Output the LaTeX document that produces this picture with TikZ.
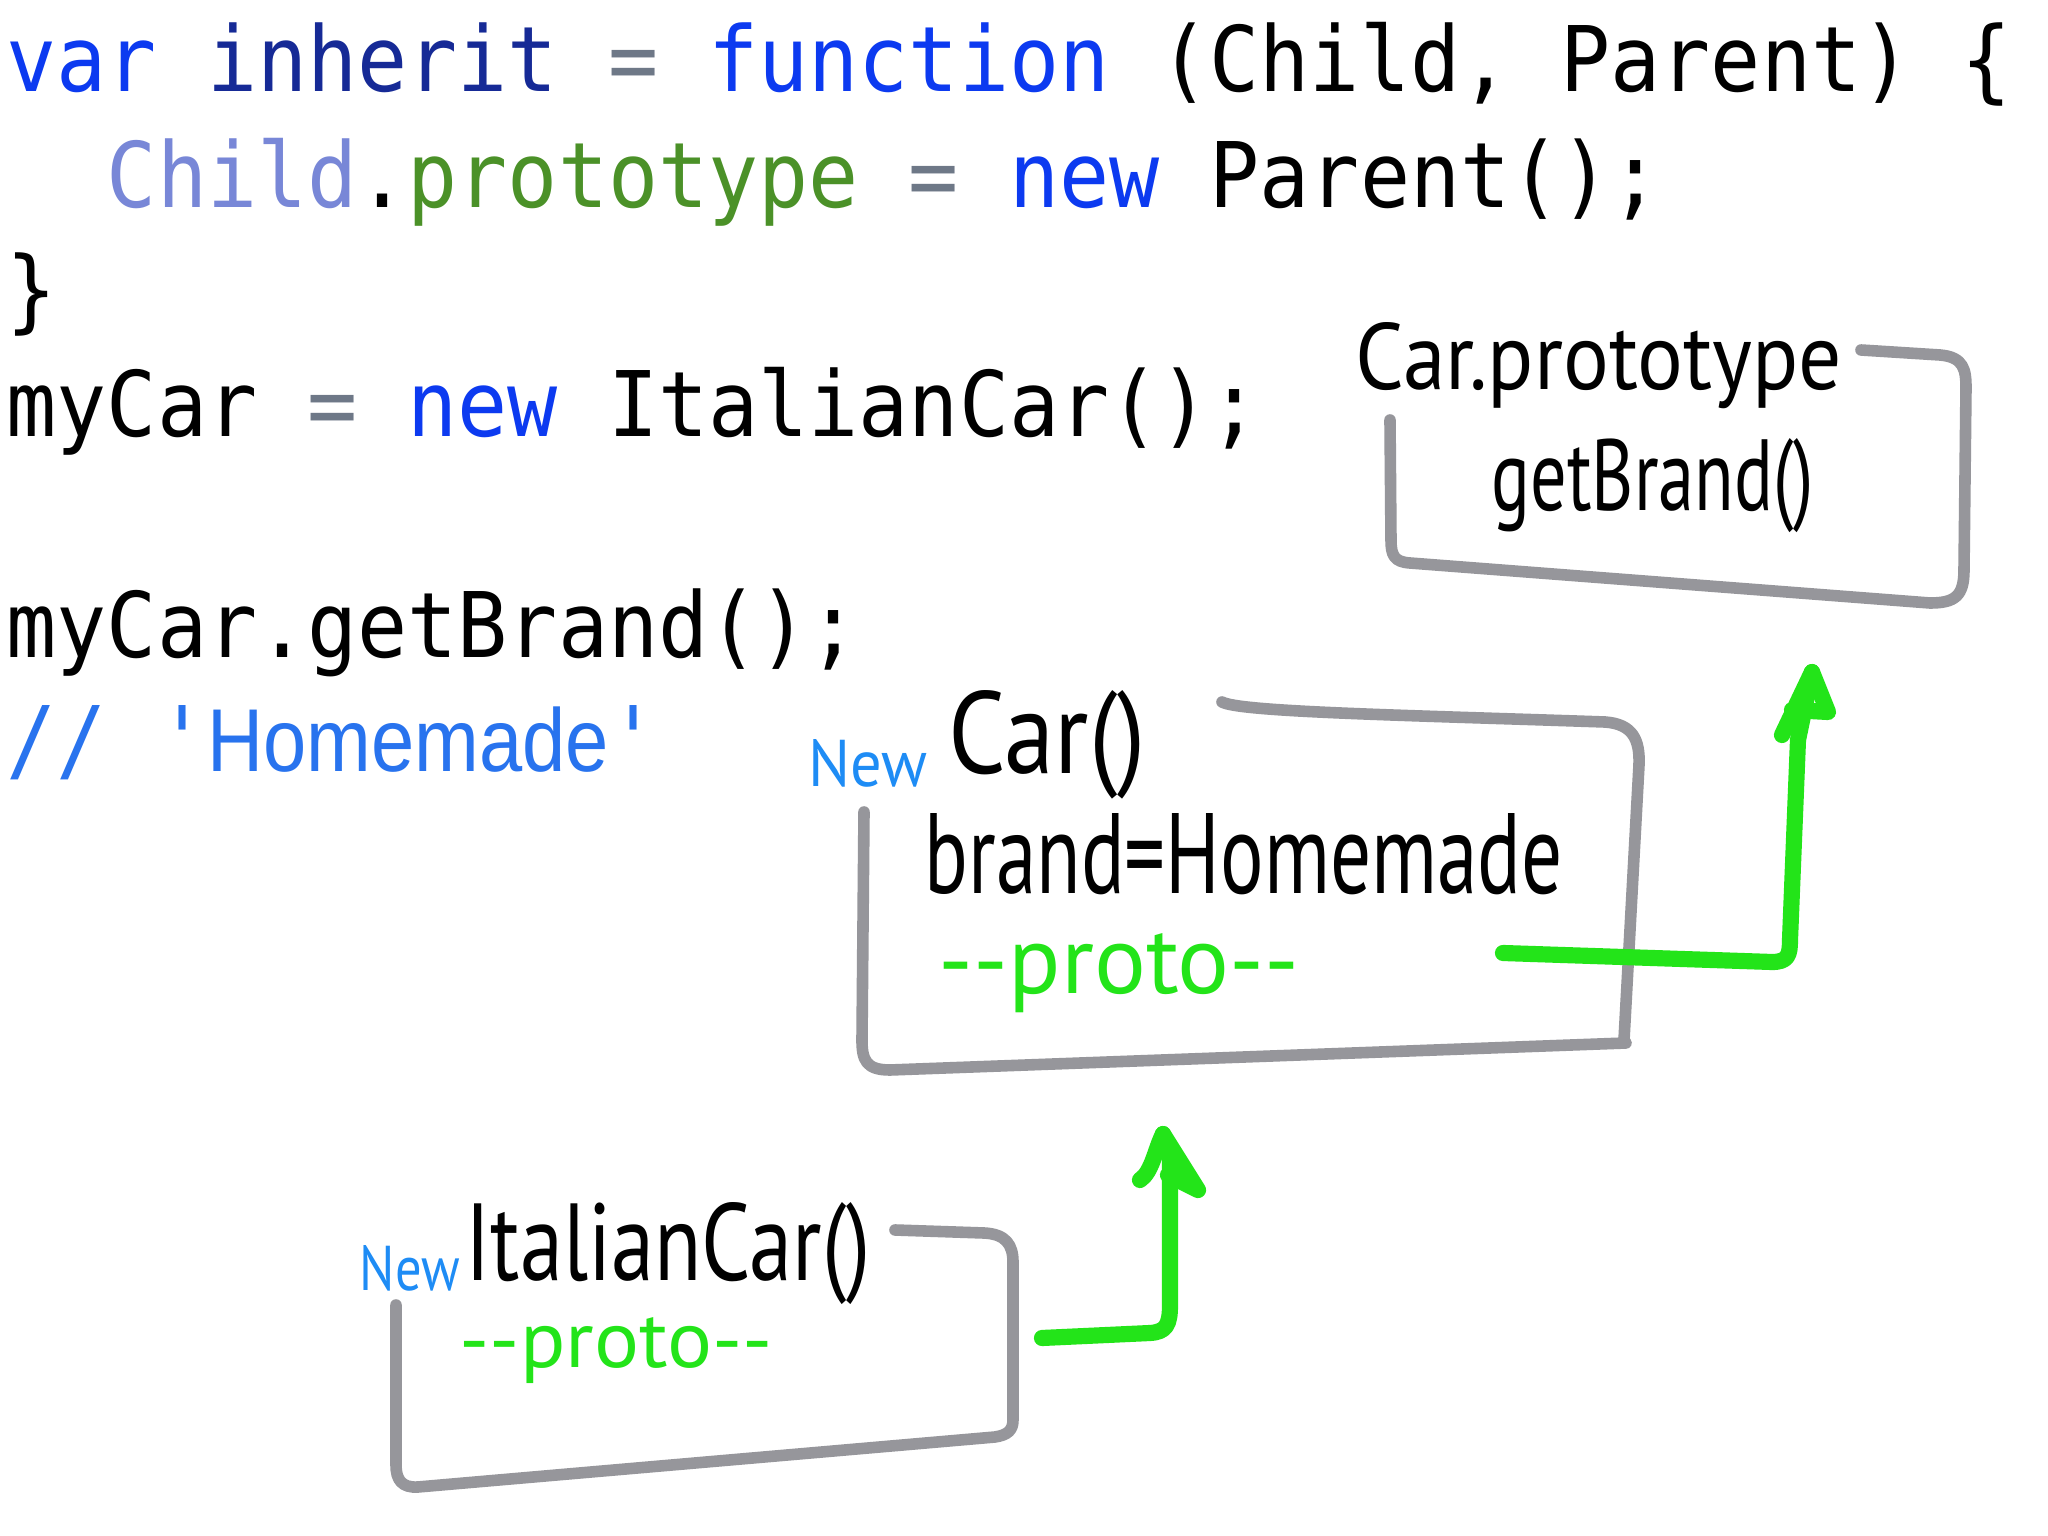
\documentclass[tikz,border=0pt]{standalone}
\usepackage{fontspec}
\usepackage{graphicx}
\newfontfamily\codefont[FakeStretch=0.92,Ligatures=TeXOff]{DejaVu Sans Mono}
\newfontfamily\homefont[FakeStretch=0.87,Ligatures=TeXOff]{Liberation Sans}
\newfontfamily\handfont[Ligatures=TeXOff]{PT Sans}
\definecolor{kwblue}{RGB}{12,58,240}
\definecolor{navyc}{RGB}{22,42,150}
\definecolor{eqgrey}{RGB}{110,120,135}
\definecolor{lavc}{RGB}{120,135,215}
\definecolor{protog}{RGB}{75,145,40}
\definecolor{cmtblue}{RGB}{40,115,238}
\definecolor{boxgrey}{RGB}{150,150,155}
\definecolor{penG}{RGB}{35,228,25}
\definecolor{penB}{RGB}{30,140,245}
\newcommand\hw[3]{\resizebox{#1cm}{#2cm}{\handfont\fontsize{20pt}{24pt}\selectfont #3}}
\tikzset{
  codeline/.style={anchor=base west, inner sep=0pt, font=\codefont\fontsize{25.75pt}{30pt}\selectfont},
  cmtline/.style={anchor=base west, inner sep=0pt, text=cmtblue, font=\codefont\fontsize{25.75pt}{30pt}\selectfont},
  hand/.style={anchor=base west, inner sep=0pt},
  greybox/.style={draw=boxgrey, line width=3.3pt, line cap=round, line join=round},
  greenpen/.style={draw=penG, line width=4.6pt, line cap=round, line join=round}
}
\begin{document}
\begin{tikzpicture}
\fill[white] (0,0) rectangle (20.48,-15.36);
\useasboundingbox (0,0) rectangle (20.48,-15.36);

% code
\node[codeline] (l1) at (0.06,-0.92) {\textcolor{kwblue}{var} \textcolor{navyc}{inherit} \textcolor{eqgrey}{=} \textcolor{kwblue}{function} (Child, Parent) \{};
\node[codeline] (l2) at (1.062,-2.08) {\textcolor{lavc}{Child}.\textcolor{protog}{prototype} \textcolor{eqgrey}{=} \textcolor{kwblue}{new} Parent();};
\node[codeline] (l3) at (0.06,-3.22) {\}};
\node[codeline] (l4) at (0.06,-4.37) {myCar \textcolor{eqgrey}{=} \textcolor{kwblue}{new} ItalianCar();};
\node[codeline] (l6) at (0.06,-6.57) {myCar.getBrand();};
\node[cmtline] (l7) at (0.06,-7.72) {// '{\homefont\fontsize{25.4pt}{30pt}\selectfont Homemade}'};

% grey boxes
\draw[greybox] (18.61,-3.50) -- (19.40,-3.55) .. controls (19.64,-3.57) and (19.66,-3.70) .. (19.66,-3.88) -- (19.64,-5.70) .. controls (19.64,-5.96) and (19.55,-6.03) .. (19.30,-6.03) -- (14.10,-5.63) .. controls (13.94,-5.62) and (13.91,-5.55) .. (13.91,-5.40) -- (13.90,-4.20);
\draw[greybox] (12.22,-7.02) .. controls (12.40,-7.12) and (14.00,-7.15) .. (16.05,-7.22) .. controls (16.33,-7.24) and (16.40,-7.40) .. (16.39,-7.65) -- (16.24,-10.40) -- (16.26,-10.43) -- (8.90,-10.70) .. controls (8.66,-10.70) and (8.62,-10.60) .. (8.62,-10.40) -- (8.64,-8.12);
\draw[greybox] (8.95,-12.30) -- (9.84,-12.33) .. controls (10.06,-12.34) and (10.13,-12.45) .. (10.13,-12.62) -- (10.13,-14.20) .. controls (10.13,-14.30) and (10.08,-14.35) .. (9.95,-14.37) -- (4.18,-14.87) .. controls (4.02,-14.88) and (3.96,-14.80) .. (3.96,-14.65) -- (3.96,-13.05);

% handwritten labels
\node[hand] (cp) at (13.55,-3.90) {\hw{4.86}{0.67}{Car.prototype}};
\node[hand] (gb) at (14.91,-5.10) {\hw{3.22}{0.72}{getBrand()}};
\node[hand, text=penB] (n1) at (8.08,-7.87) {\hw{1.19}{0.47}{New}};
\node[hand] (c1) at (9.48,-7.73) {\hw{1.97}{0.83}{Car()}};
\node[hand] (br) at (9.24,-8.93) {\hw{6.38}{0.80}{brand=Homemade}};
\node[hand, text=penG] (p1) at (9.38,-9.93) {\hw{3.61}{0.60}{--proto--}};
\node[hand, text=penB] (n2) at (3.59,-12.90) {\hw{1.00}{0.45}{New}};
\node[hand] (ic) at (4.65,-12.80) {\hw{4.05}{0.78}{ItalianCar()}};
\node[hand, text=penG] (p2) at (4.59,-13.67) {\hw{3.13}{0.50}{--proto--}};

% green arrows
\coordinate (a1s) at (15.03,-9.53);
\coordinate (a1t) at (18.12,-6.72);
\coordinate (a2s) at (10.42,-13.38);
\coordinate (a2t) at (11.63,-11.34);
\draw[greenpen] (a1s) -- (17.72,-9.62) .. controls (17.88,-9.62) and (17.90,-9.55) .. (17.90,-9.40) -- (17.98,-7.40) -- (a1t);
\draw[greenpen] (17.82,-7.35) -- (a1t) -- (18.28,-7.12) -- (17.92,-7.10);
\draw[greenpen] (a2s) -- (11.50,-13.33) .. controls (11.66,-13.32) and (11.70,-13.25) .. (11.70,-13.05) -- (11.70,-11.60) -- (a2t);
\draw[greenpen] (11.40,-11.80) .. controls (11.52,-11.72) and (11.55,-11.50) .. (a2t) -- (11.98,-11.90) -- (11.68,-11.75);
\end{tikzpicture}
\end{document}
